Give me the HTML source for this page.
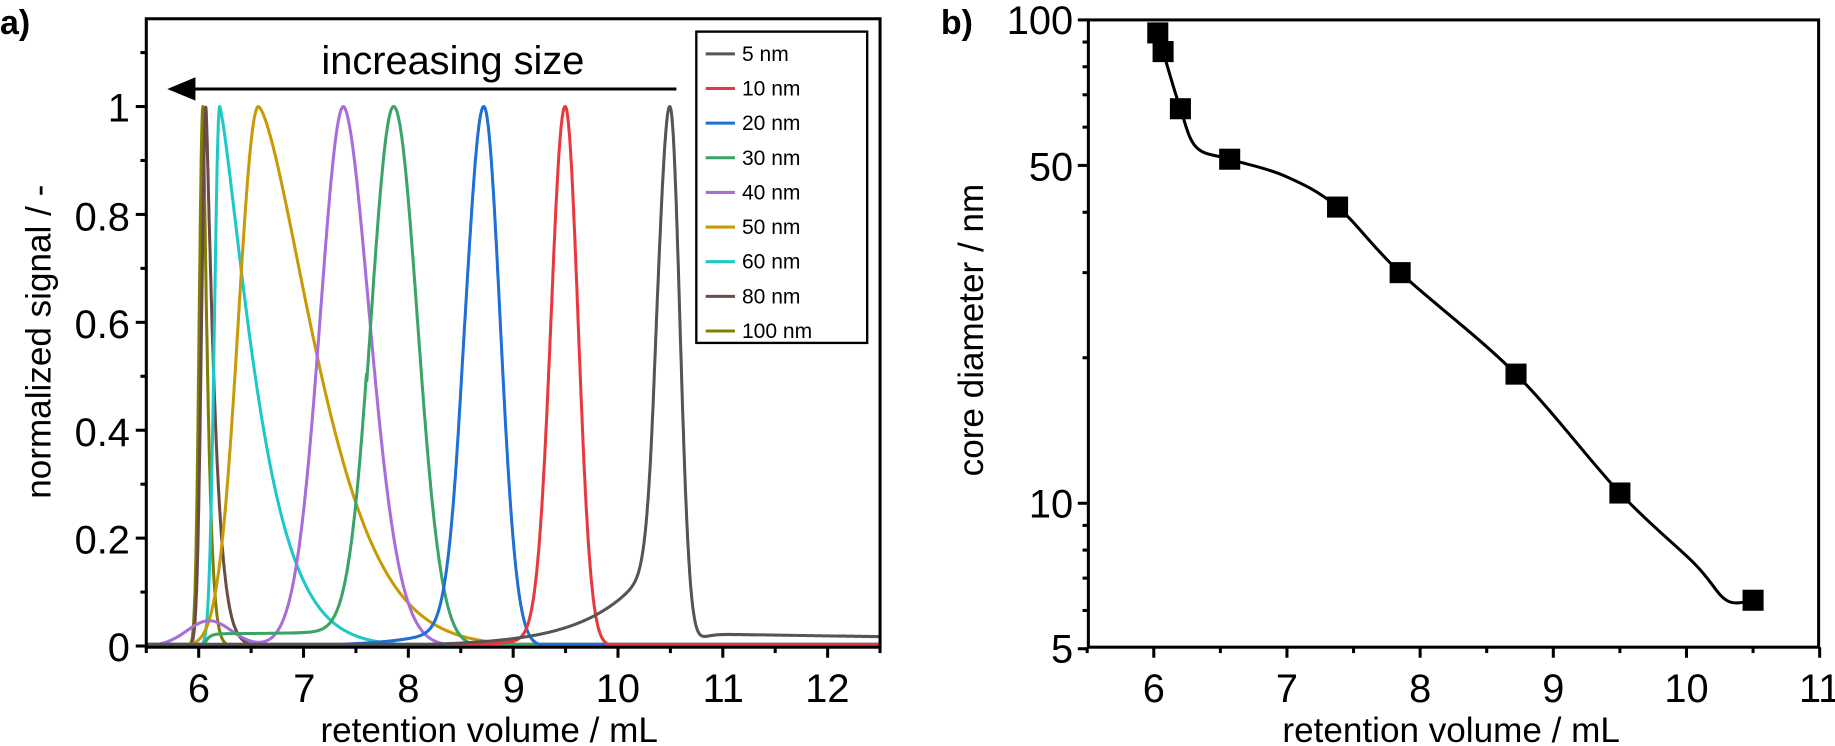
<!DOCTYPE html>
<html><head><meta charset="utf-8"><style>
body{margin:0;background:#fff}
svg{display:block;font-family:"Liberation Sans",Arial,sans-serif}
</style></head><body>
<svg id="s" width="1835" height="746" viewBox="0 0 1568 637.4" xmlns="http://www.w3.org/2000/svg">
<g id="curvesA" fill="none" stroke-width="2.6" stroke-linejoin="round"></g>
<rect x="125" y="16" width="627" height="537" fill="none" stroke="#000" stroke-width="2.6"/>
<g id="ticksA" stroke="#000" stroke-width="2.6"></g>
<g font-size="34" text-anchor="end">
<text x="111" y="565">0</text><text x="111" y="473">0.2</text><text x="111" y="381">0.4</text>
<text x="111" y="289">0.6</text><text x="111" y="197">0.8</text><text x="111" y="104">1</text>
</g>
<g font-size="34" text-anchor="middle">
<text x="170" y="600">6</text><text x="260" y="600">7</text><text x="349" y="600">8</text><text x="439" y="600">9</text>
<text x="528" y="600">10</text><text x="618" y="600">11</text><text x="707" y="600">12</text>
</g>
<g font-size="30" text-anchor="middle">
<text x="418" y="634">retention volume / mL</text>
<text transform="translate(43,292) rotate(-90)">normalized signal / -</text>
<text x="387" y="63" font-size="34">increasing size</text>
</g>
<line x1="160" y1="76" x2="578" y2="76" stroke="#000" stroke-width="2.6"/>
<polygon points="143,76 167,66 167,86" fill="#000"/>
<text x="0" y="29" font-size="29" font-weight="bold">a)</text>
<rect x="595" y="27" width="146" height="266" fill="#fff" stroke="#000" stroke-width="2"/>
<g id="legend" font-size="18"></g>

<path id="fitB" fill="none" stroke="#000" stroke-width="2.6"/>
<g id="ptsB"></g>
<rect x="930" y="17" width="624" height="536" fill="none" stroke="#000" stroke-width="2.6"/>
<g id="ticksB" stroke="#000" stroke-width="2.6"></g>
<g font-size="34" text-anchor="end">
<text x="917" y="29">100</text><text x="917" y="154">50</text><text x="917" y="442">10</text><text x="917" y="566">5</text>
</g>
<g font-size="34" text-anchor="middle" id="xlabB"></g>
<g font-size="30" text-anchor="middle">
<text transform="translate(840,282) rotate(-90)">core diameter / nm</text>
<text x="1240" y="634">retention volume / mL</text>
</g>
<text x="804" y="29" font-size="29" font-weight="bold">b)</text>
</svg>
<script>
const NS="http://www.w3.org/2000/svg";
function el(t,a,p){const e=document.createElementNS(NS,t);for(const k in a)e.setAttribute(k,a[k]);if(p)p.appendChild(e);return e;}
const XA=x=>125+(x-5.5)*89.57, YA=y=>552-y*461;
const tA=document.getElementById('ticksA');
for(let i=0;i<=14;i++){const x=5.5+i*0.5;const px=XA(x);const maj=Math.abs(x-Math.round(x))<1e-6;el('line',{x1:px,y1:553,x2:px,y2:553+(maj?9:5)},tA);}
for(let i=0;i<=11;i++){const py=YA(i*0.1);const maj=i%2==0;el('line',{x1:125,y1:py,x2:125-(maj?9:5),y2:py},tA);}
function asym(x,c,sl,sr,pl,pr){const d=x-c;if(d<0)return Math.exp(-Math.pow(-d/sl,pl));return Math.exp(-Math.pow(d/sr,pr));}
function tail(x,c,a,w){return x<c?a*Math.exp(-(c-x)/w):a*Math.exp(-Math.pow((x-c)/0.1,2));}
const series=[
["5 nm","#555555",x=>asym(x,10.5,0.15,0.13,2,2)*0.86+tail(x,10.35,0.14,0.55)+(x>10.6?0.02*(1-(x-10.6)/8):0)*(1-Math.exp(-Math.pow((x-10.6)/0.2,2)))],
["10 nm","#e8383d",x=>asym(x,9.5,0.19,0.17,2,2)*0.97+tail(x,9.4,0.03,0.3)],
["20 nm","#1f6fd6",x=>asym(x,8.72,0.24,0.22,2,2)*0.96+tail(x,8.5,0.04,0.45)],
["30 nm","#3aa366",x=>asym(x,7.86,0.3,0.32,2,2)*0.97+(x>6.05&&x<7.6?0.022*(1-Math.exp(-(x-6.05)/0.04)):0)+tail(x,7.65,0.01,0.4)],
["40 nm","#a86ddb",x=>asym(x,7.38,0.32,0.37,1.9,1.8)*0.96+0.045*Math.exp(-Math.pow((x-6.1)/0.3,2))],
["50 nm","#c99a06",x=>asym(x,6.57,0.27,0.77,2,1.5)],
["60 nm","#1ec8c8",x=>asym(x,6.2,0.07,0.45,2,1.3)],
["80 nm","#6b4b46",x=>asym(x,6.07,0.06,0.1,2,1.2)],
["100 nm","#808000",x=>asym(x,6.04,0.05,0.06,2,1.3)]];
const gA=document.getElementById('curvesA'), lg=document.getElementById('legend');
series.slice().reverse().forEach(s=>{let m=0;for(let x=5.5;x<=12.5;x+=0.002)m=Math.max(m,s[2](x));
let d="";for(let x=5.5;x<=12.5;x+=0.004){let y=s[2](x)/m;d+=(d?"L":"M")+XA(x).toFixed(1)+","+YA(Math.max(y,0.003)).toFixed(1);}el('path',{d:d,stroke:s[1]},gA);});
series.forEach((s,i)=>{const y=46+i*29.6;el('line',{x1:603,y1:y,x2:628,y2:y,stroke:s[1],"stroke-width":2.6},lg);const t=el('text',{x:634,y:y+6},lg);t.textContent=s[0];});
const XB=x=>929+(x-5.5)*113.8, YB=v=>430-413*(Math.log10(v)-1);
const tB=document.getElementById('ticksB');
for(let i=0;i<=11;i++){const x=5.5+i*0.5,px=XB(x),maj=i%2==1;el('line',{x1:px,y1:553,x2:px,y2:553+(maj?9:5)},tB);}
[5,6,7,8,9,10,20,30,40,50,60,70,80,90,100].forEach(v=>{const maj=[5,10,50,100].includes(v);el('line',{x1:930,y1:YB(v),x2:930-(maj?9:5),y2:YB(v)},tB);});
const xl=document.getElementById('xlabB');
[6,7,8,9,10,11].forEach(v=>{const t=el('text',{x:XB(v),y:600},xl);t.textContent=v;});
const D=[[6.03,94],[6.07,86],[6.2,65.5],[6.57,51.5],[7.38,41],[7.85,30],[8.72,18.5],[9.5,10.5],[10.5,6.3]];
const P=D.map(p=>[XB(p[0]),YB(p[1])]);
const Q=[D[0],D[1],D[2],[6.32,54.5],D[3],[6.98,47.6],D[4],D[5],D[6],D[7],[10.06,7.5],[10.3,6.3],D[8]].map(p=>[XB(p[0]),YB(p[1])]);
let d="M"+Q[0][0]+","+Q[0][1];
for(let i=0;i<Q.length-1;i++){const p0=Q[Math.max(i-1,0)],p1=Q[i],p2=Q[i+1],p3=Q[Math.min(i+2,Q.length-1)];
d+=`C${p1[0]+(p2[0]-p0[0])/6},${p1[1]+(p2[1]-p0[1])/6} ${p2[0]-(p3[0]-p1[0])/6},${p2[1]-(p3[1]-p1[1])/6} ${p2[0]},${p2[1]}`;}
document.getElementById('fitB').setAttribute('d',d);
const gP=document.getElementById('ptsB');
P.forEach(p=>el('rect',{x:p[0]-9,y:p[1]-9,width:18,height:18,fill:"#000"},gP));
</script>
</body></html>
